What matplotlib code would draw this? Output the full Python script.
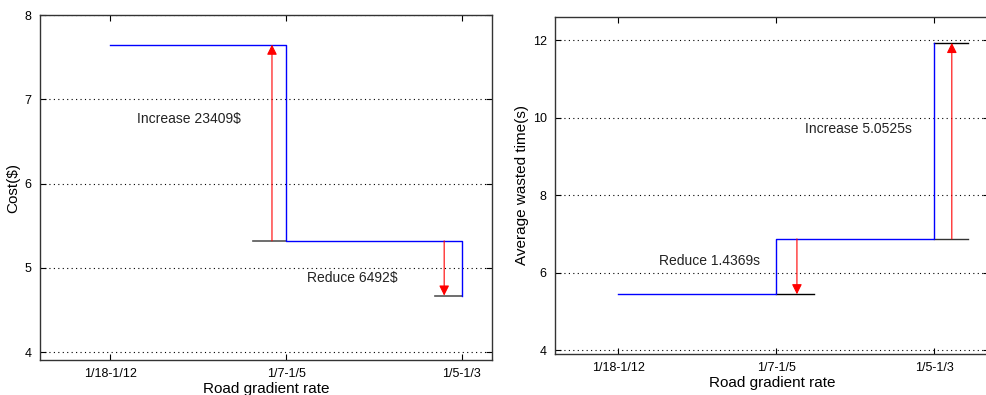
import matplotlib
matplotlib.use('Agg')
import matplotlib.pyplot as plt

# ====== DATA ======
categories = ['1/18-1/12', '1/7-1/5', '1/5-1/3']
cost = [7.65, 5.32, 4.67]
wasted_time = [5.44, 6.87, 11.93]
cost_yticks = [4, 5, 6, 7, 8]
time_yticks = [4, 6, 8, 10, 12]
cost_notes = ['Increase 23409$', 'Reduce 6492$']
time_notes = ['Reduce 1.4369s', 'Increase 5.0525s']
# ==================

plt.rcParams['font.family'] = ['Liberation Sans', 'DejaVu Sans']
plt.rcParams['font.size'] = 9

fig = plt.figure(figsize=(9.86, 3.95), dpi=100)
ax1 = fig.add_axes([0.0406, 0.0886, 0.458, 0.873])
ax2 = fig.add_axes([0.563, 0.104, 0.44, 0.853])

xs = list(range(len(categories)))


def style(ax, yticks, ylim, xlim):
    ax.set_xticks(xs)
    ax.set_xticklabels(categories)
    ax.set_yticks(yticks)
    ax.set_ylim(*ylim)
    ax.set_xlim(*xlim)
    ax.tick_params(direction='in', top=True, right=True, length=4, width=0.8,
                   labelsize=9, pad=6)
    ax.yaxis.grid(True, linestyle=(0, (1, 3)), color='black', linewidth=0.8)
    for s in ax.spines.values():
        s.set_linewidth(1.0)
        s.set_color('#333333')
    ax.set_xlabel('Road gradient rate', fontsize=11, labelpad=1)


def arrow(ax, x, y0, y1):
    ax.annotate('', xy=(x, y1), xytext=(x, y0),
                arrowprops=dict(arrowstyle='-|>', color='red', lw=0.8,
                                mutation_scale=15, shrinkA=0, shrinkB=0))


# Left: cost
ax1.step(xs, cost, where='post', color='blue', lw=1.0, zorder=3)
ax1.plot([0.81, 1], [cost[1], cost[1]], color='#555555', lw=1.2)
ax1.plot([1.85, 2], [cost[2], cost[2]], color='#555555', lw=1.2)
arrow(ax1, 0.92, cost[1], cost[0])
arrow(ax1, 1.90, cost[1], cost[2])
ax1.text(0.15, 6.77, cost_notes[0], fontsize=10, color='#222222', va='center')
ax1.text(1.12, 4.88, cost_notes[1], fontsize=10, color='#222222', va='center')
style(ax1, cost_yticks, (3.905, 8.0), (-0.4, 2.17))
ax1.set_ylabel('Cost($)', fontsize=11, labelpad=3)

# Right: average wasted time
ax2.step(xs, wasted_time, where='post', color='blue', lw=1.0, zorder=3)
ax2.plot([1, 1.24], [wasted_time[0], wasted_time[0]], color='black', lw=1.0)
ax2.plot([2, 2.21], [wasted_time[1], wasted_time[1]], color='#333333', lw=1.0)
ax2.plot([2, 2.21], [wasted_time[2], wasted_time[2]], color='black', lw=1.0)
arrow(ax2, 1.13, wasted_time[1], wasted_time[0])
arrow(ax2, 2.11, wasted_time[1], wasted_time[2])
ax2.text(0.26, 6.30, time_notes[0], fontsize=10, color='#222222', va='center')
ax2.text(1.18, 9.70, time_notes[1], fontsize=10, color='#222222', va='center')
style(ax2, time_yticks, (3.9, 12.6), (-0.4, 2.345))
ax2.set_ylabel('Average wasted time(s)', fontsize=11, labelpad=3)

fig.savefig('out.png', dpi=100)
